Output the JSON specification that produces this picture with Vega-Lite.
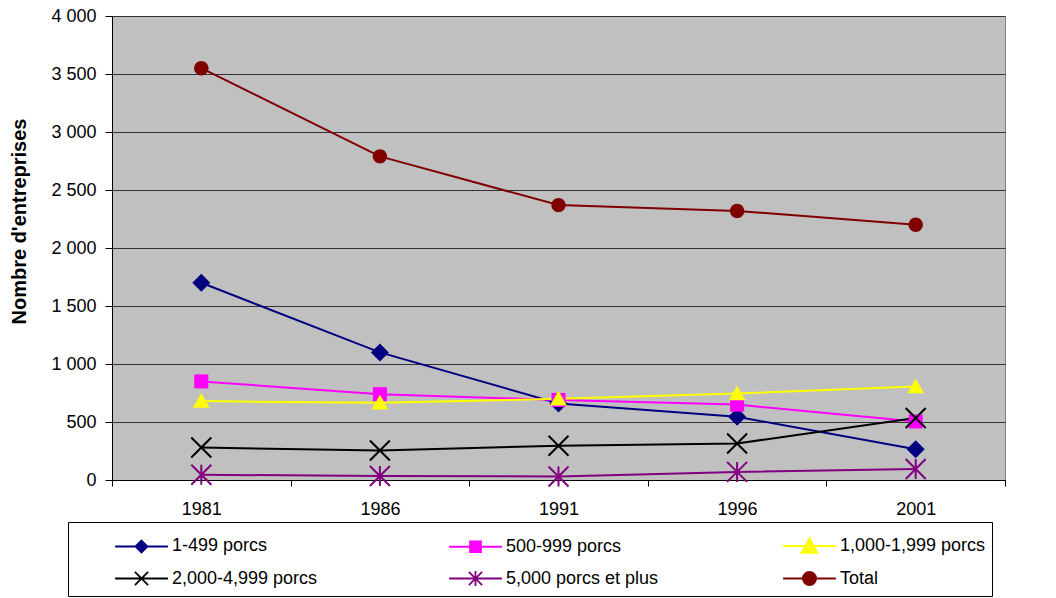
{
  "$schema": "https://vega.github.io/schema/vega-lite/v6.json",
  "width": 893,
  "height": 464,
  "autosize": "none",
  "padding": {"left": 112, "top": 16, "right": 51, "bottom": 118},
  "background": "white",
  "data": {
    "values": [
      {"year": "1981", "series": "1-499 porcs", "value": 1700},
      {"year": "1986", "series": "1-499 porcs", "value": 1100},
      {"year": "1991", "series": "1-499 porcs", "value": 660},
      {"year": "1996", "series": "1-499 porcs", "value": 545},
      {"year": "2001", "series": "1-499 porcs", "value": 265},
      {"year": "1981", "series": "500-999 porcs", "value": 850},
      {"year": "1986", "series": "500-999 porcs", "value": 740},
      {"year": "1991", "series": "500-999 porcs", "value": 690},
      {"year": "1996", "series": "500-999 porcs", "value": 650},
      {"year": "2001", "series": "500-999 porcs", "value": 505},
      {"year": "1981", "series": "1,000-1,999 porcs", "value": 680},
      {"year": "1986", "series": "1,000-1,999 porcs", "value": 665},
      {"year": "1991", "series": "1,000-1,999 porcs", "value": 700},
      {"year": "1996", "series": "1,000-1,999 porcs", "value": 745},
      {"year": "2001", "series": "1,000-1,999 porcs", "value": 805},
      {"year": "1981", "series": "2,000-4,999 porcs", "value": 280},
      {"year": "1986", "series": "2,000-4,999 porcs", "value": 255},
      {"year": "1991", "series": "2,000-4,999 porcs", "value": 295},
      {"year": "1996", "series": "2,000-4,999 porcs", "value": 315},
      {"year": "2001", "series": "2,000-4,999 porcs", "value": 535},
      {"year": "1981", "series": "5,000 porcs et plus", "value": 45},
      {"year": "1986", "series": "5,000 porcs et plus", "value": 35},
      {"year": "1991", "series": "5,000 porcs et plus", "value": 30},
      {"year": "1996", "series": "5,000 porcs et plus", "value": 70},
      {"year": "2001", "series": "5,000 porcs et plus", "value": 95},
      {"year": "1981", "series": "Total", "value": 3550},
      {"year": "1986", "series": "Total", "value": 2790},
      {"year": "1991", "series": "Total", "value": 2370},
      {"year": "1996", "series": "Total", "value": 2320},
      {"year": "2001", "series": "Total", "value": 2200}
    ]
  },
  "encoding": {
    "x": {
      "field": "year", "type": "ordinal",
      "scale": {"type": "band", "paddingInner": 0, "paddingOuter": 0},
      "axis": {
        "title": null, "labelAngle": 0, "tickBand": "extent", "grid": false,
        "domainColor": "black", "tickColor": "black", "tickSize": 6,
        "labelPadding": 14, "labelFontSize": 18, "labelColor": "black",
        "labelFont": "Liberation Sans"
      }
    },
    "y": {
      "field": "value", "type": "quantitative",
      "scale": {"domain": [0, 4000], "nice": false},
      "axis": {
        "title": "Nombre d'entreprises",
        "values": [0, 500, 1000, 1500, 2000, 2500, 3000, 3500, 4000],
        "labelExpr": "replace(format(datum.value, ','), ',', ' ')",
        "grid": true, "gridColor": "#333333", "gridWidth": 1,
        "domainColor": "black", "tickColor": "black", "tickSize": 7,
        "labelPadding": 9, "labelFontSize": 18, "labelColor": "black",
        "labelFont": "Liberation Sans",
        "titleFont": "Liberation Sans", "titleFontSize": 20, "titleFontWeight": "bold",
        "titleColor": "black", "titleX": -83, "titleY": 205
      }
    },
    "color": {
      "field": "series", "type": "nominal",
      "scale": {
        "domain": ["1-499 porcs", "500-999 porcs", "1,000-1,999 porcs", "2,000-4,999 porcs", "5,000 porcs et plus", "Total"],
        "range": ["#000080", "#FF00FF", "#FFFF00", "#000000", "#800080", "#800000"]
      },
      "legend": {
        "orient": "none", "legendX": -44, "legendY": 506,
        "columns": 3, "title": " ", "titleOrient": "left", "titlePadding": 50,
        "titleFontSize": 18, "direction": "horizontal",
        "gridAlign": "all", "columnPadding": 120, "rowPadding": 4,
        "symbolSize": 1089, "symbolStrokeWidth": 1.8,
        "labelFontSize": 18, "labelFont": "Liberation Sans", "labelColor": "black",
        "labelOffset": 13, "labelLimit": 500,
        "strokeColor": "black", "fillColor": "white", "padding": 6,
        "encode": {
          "symbols": {
            "update": {
              "shape": {"signal": "['M-1.6,0H1.6M-0.36,0L0,-0.36L0.36,0L0,0.36Z', 'M-1.6,0H1.6M-0.33,-0.33H0.33V0.33H-0.33Z', 'M-1.6,0H1.6M-0.48,0.42L0,-0.48L0.48,0.42Z', 'M-1.6,0H1.6M-0.4,-0.4L0.4,0.4M-0.4,0.4L0.4,-0.4', 'M-1.6,0H1.6M-0.4,-0.4L0.4,0.4M-0.4,0.4L0.4,-0.4M0,-0.45L0,0.45', 'M-1.6,0H1.6M-0.4,0A0.4,0.4 0 1,0 0.4,0A0.4,0.4 0 1,0 -0.4,0Z'][indexof(['1-499 porcs','500-999 porcs','1,000-1,999 porcs','2,000-4,999 porcs','5,000 porcs et plus','Total'], datum.value)]"},
              "fill": {"scale": "color", "field": "value"},
              "stroke": {"scale": "color", "field": "value"},
              "opacity": {"value": 1}
            }
          }
        }
      }
    }
  },
  "layer": [
    {
      "mark": {"type": "line", "strokeWidth": 2}
    },
    {
      "transform": [{"filter": "datum.series === '1-499 porcs'"}],
      "mark": {"type": "point", "filled": true, "size": 324, "opacity": 1, "shape": "M-1,0L0,-1L1,0L0,1Z"}
    },
    {
      "transform": [{"filter": "datum.series === '500-999 porcs'"}],
      "mark": {"type": "point", "filled": true, "size": 324, "opacity": 1, "shape": "M-0.78,-0.78H0.78V0.78H-0.78Z"}
    },
    {
      "transform": [{"filter": "datum.series === '1,000-1,999 porcs'"}],
      "mark": {"type": "point", "filled": true, "size": 324, "opacity": 1, "shape": "M-0.94,0.75L0,-0.9L0.94,0.75Z"}
    },
    {
      "transform": [{"filter": "datum.series === '2,000-4,999 porcs'"}],
      "mark": {"type": "point", "filled": false, "size": 400, "strokeWidth": 2, "opacity": 1, "shape": "M-1,-1L1,1M-1,1L1,-1"}
    },
    {
      "transform": [{"filter": "datum.series === '5,000 porcs et plus'"}],
      "mark": {"type": "point", "filled": false, "size": 400, "strokeWidth": 2, "opacity": 1, "shape": "M-1,-1L1,1M-1,1L1,-1M0,-1L0,1"}
    },
    {
      "transform": [{"filter": "datum.series === 'Total'"}],
      "mark": {"type": "point", "filled": true, "size": 324, "opacity": 1, "shape": "M-0.8,0A0.8,0.8 0 1,0 0.8,0A0.8,0.8 0 1,0 -0.8,0Z"}
    }
  ],
  "config": {
    "view": {"stroke": "#808080", "fill": "#C0C0C0", "strokeWidth": 1}
  }
}
